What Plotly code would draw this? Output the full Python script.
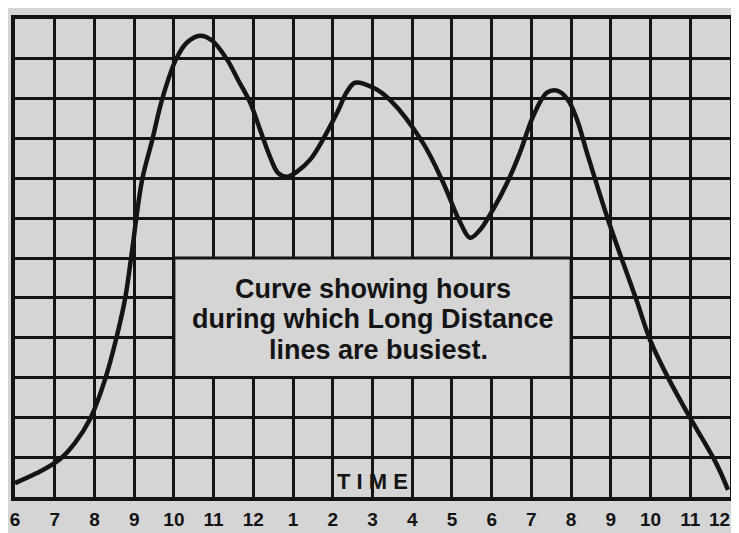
import plotly.graph_objects as go

# Hours from 6 a.m. (6) to midnight (24)
hours = [6.00, 6.55, 7.13, 7.51, 7.89, 8.27, 8.54, 8.77, 8.92, 9.20, 9.45, 9.70,
         10.05, 10.33, 10.66, 10.96, 11.34, 11.61, 11.92, 12.17, 12.42, 12.62,
         12.85, 13.10, 13.43, 13.75, 14.11, 14.36, 14.56, 15.01, 15.44,
         16.27, 16.78, 17.20, 17.46, 17.71, 18.03, 18.39, 18.71, 19.04, 19.39,
         19.65, 19.92, 20.15, 20.40, 20.93, 21.66, 21.99, 22.47,
         23.07, 23.65, 23.95]
# Relative traffic (grid units, 0-12)
traffic = [0.35, 0.60, 0.95, 1.36, 1.96, 2.96, 3.94, 4.97, 5.98, 7.96, 8.94, 9.97,
           10.98, 11.41, 11.58, 11.46, 10.98, 10.48, 9.90, 9.22, 8.54, 8.14,
           8.04, 8.17, 8.47, 8.97, 9.65, 10.18, 10.40, 10.28, 9.97,
           8.89, 7.89, 6.91, 6.51, 6.71, 7.21, 7.89, 8.64, 9.55, 10.15,
           10.20, 9.97, 9.47, 8.64, 6.96, 4.90, 3.94, 2.94,
           1.86, 0.85, 0.18]

tick_hours = list(range(6, 25))
tick_labels = ["6", "7", "8", "9", "10", "11", "12", "1", "2", "3", "4", "5",
               "6", "7", "8", "9", "10", "11", "12"]

caption_lines = ["Curve showing hours", "during which Long Distance", "lines are busiest."]
axis_title = "T I M E"

paper = "#d5d5d5"
ink = "#141414"
font_family = "Liberation Sans, Arial, sans-serif"
tick_font = dict(family=font_family, size=19, color=ink, weight="bold")

fig = go.Figure()
fig.add_trace(go.Scatter(
    x=hours, y=traffic, mode="lines",
    line=dict(color=ink, width=4.5, shape="spline", smoothing=1.0),
    hoverinfo="skip", showlegend=False,
))

# caption box (covers grid)
fig.add_shape(type="rect", xref="x", yref="y", x0=10, x1=20, y0=3, y1=6,
              fillcolor=paper, line=dict(color=ink, width=3), layer="above")

caption_y = [5.23, 4.47, 3.7]
caption_x = [15.0, 15.0, 15.15]
for txt, cx, cy in zip(caption_lines, caption_x, caption_y):
    fig.add_annotation(x=cx, y=cy, xref="x", yref="y", text=txt, showarrow=False,
                       font=dict(family=font_family, size=27, color=ink, weight="bold"))

fig.add_annotation(x=15.0, y=0.38, xref="x", yref="y", text=axis_title, showarrow=False,
                   font=dict(family=font_family, size=22, color=ink, weight="bold"))

# last hour label sits at the page edge: keep it fully inside the picture
fig.add_annotation(x=tick_hours[-1], y=0, xref="x", yref="paper", text=tick_labels[-1],
                   showarrow=False, xanchor="right", yanchor="middle",
                   xshift=2, yshift=-22, font=tick_font)

fig.update_xaxes(range=[6, 24], tickvals=tick_hours[:-1], ticktext=tick_labels[:-1],
                 showgrid=True, gridcolor=ink, gridwidth=3, zeroline=False,
                 showline=True, mirror=True, linecolor=ink, linewidth=4,
                 ticks="", tickfont=tick_font,
                 ticklabeloverflow="allow", ticklabelstandoff=2,
                 automargin=False, fixedrange=True)
fig.update_yaxes(range=[0, 12], dtick=1, tick0=0, showgrid=True, gridcolor=ink,
                 gridwidth=3, zeroline=False, showline=True, mirror=True,
                 linecolor=ink, linewidth=4, showticklabels=False, ticks="",
                 automargin=False, fixedrange=True)

# page body has an 8px default margin, so the figure is sized to fit inside it
fig.update_layout(
    width=731, height=525,
    margin=dict(l=7, r=9, t=11, b=36),
    paper_bgcolor=paper, plot_bgcolor=paper,
    showlegend=False,
)

fig.write_html("out.html", config={"displayModeBar": False})
